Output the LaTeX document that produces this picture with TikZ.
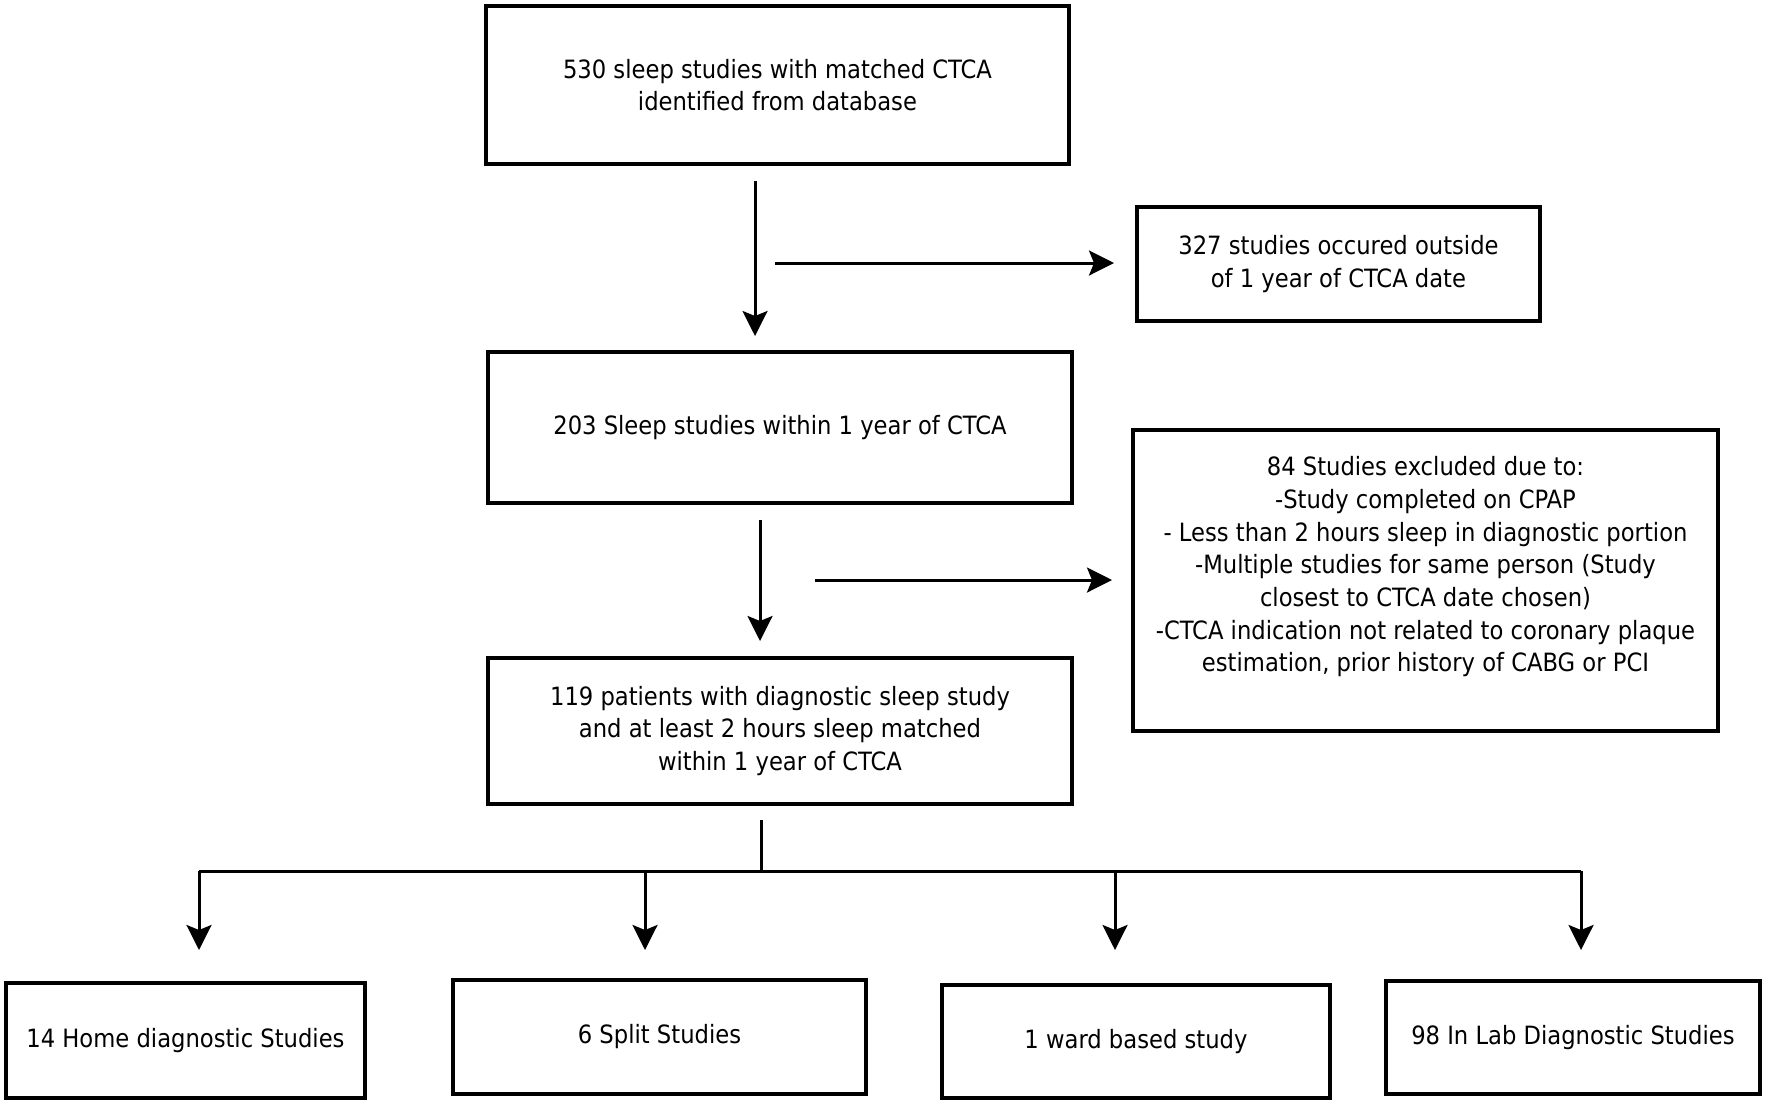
\documentclass[tikz,border=0pt]{standalone}
\usepackage{fontspec}
\setmainfont{DejaVu Sans Condensed}
\usetikzlibrary{arrows.meta}

\begin{document}
\begin{tikzpicture}[x=1pt, y=-1pt,
		box/.style={draw, line width=3.3pt, inner sep=0pt, align=center, font=\fontsize{25.2}{32.7}\selectfont},
		arr/.style={line width=3pt, -{Stealth[length=25pt, width=25pt, inset=5pt]}},
		ln/.style={line width=3pt}]
		\useasboundingbox (0,0) rectangle (1772,1109);

		\node[box, minimum width=583pt, minimum height=158pt] (n530) at (777.5,85) {530 sleep studies with matched CTCA\\identified from database};
		\node[box, minimum width=403pt, minimum height=114pt] (n327) at (1338.5,264) {327 studies occured outside\\of 1 year of CTCA date};
		\node[box, minimum width=584pt, minimum height=151pt] (n203) at (780,427.5) {203 Sleep studies within 1 year of CTCA};
		\node[box, minimum width=585pt, minimum height=301pt] (n84) at (1425.5,580.5) {84 Studies excluded due to:\\-Study completed on CPAP\\- Less than 2 hours sleep in diagnostic portion\\-Multiple studies for same person (Study\\closest to CTCA date chosen)\\-CTCA indication not related to coronary plaque\\estimation, prior history of CABG or PCI\\\mbox{}};
		\node[box, minimum width=584pt, minimum height=146pt] (n119) at (780,731) {119 patients with diagnostic sleep study\\and at least 2 hours sleep matched\\within 1 year of CTCA};

		\node[box, minimum width=359pt, minimum height=115pt] (n14) at (185.5,1040.5) {14 Home diagnostic Studies};
		\node[box, minimum width=413pt, minimum height=114pt] (n6) at (659.5,1037) {6 Split Studies};
		\node[box, minimum width=388pt, minimum height=113pt] (n1) at (1136,1041.5) {1 ward based study};
		\node[box, minimum width=374pt, minimum height=113pt] (n98) at (1573,1037.5) {98 In Lab Diagnostic Studies};

		\coordinate (v1a) at (755,181);
		\coordinate (v1b) at (755,336);
		\coordinate (h1a) at (775,263);
		\coordinate (h1b) at (1114,263);
		\coordinate (v2a) at (760,520);
		\coordinate (v2b) at (760,641);
		\coordinate (h2a) at (815,580);
		\coordinate (h2b) at (1112,580);
		\coordinate (st) at (761,820);
		\coordinate (sp) at (761,871);
		\coordinate (bl) at (199,871);
		\coordinate (br) at (1581,871);

		\draw[arr] (v1a) -- (v1b);
		\draw[arr] (h1a) -- (h1b);
		\draw[arr] (v2a) -- (v2b);
		\draw[arr] (h2a) -- (h2b);

		\draw[ln] (st) -- (sp);
		\draw[ln] (bl) -- (br);
		\foreach \x in {199, 645, 1115, 1581}
			\draw[arr] (\x,871) -- (\x,950);

\end{tikzpicture}
\end{document}
